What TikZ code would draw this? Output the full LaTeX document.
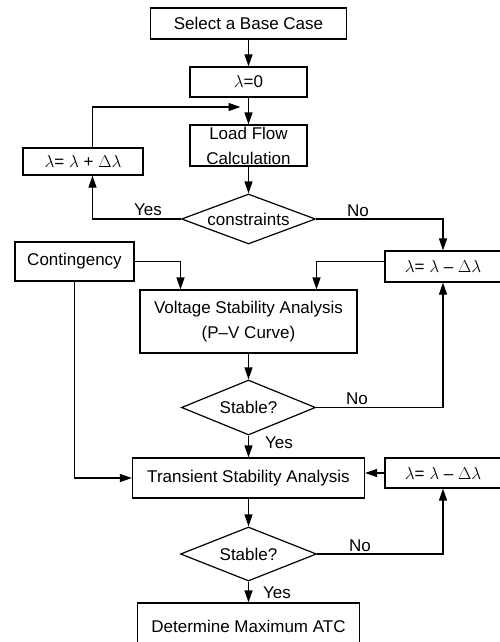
\documentclass[tikz,border=0pt]{standalone}
\usepackage{fontspec}
\setmainfont{Liberation Sans}
\usetikzlibrary{arrows.meta,shapes.geometric}
\tikzset{
    process/.style={
    rectangle,draw=black,line width=1.2pt,inner sep=1pt,align=center
    },
    decision/.style={
    diamond,aspect=2.6,draw=black,line width=1.2pt,inner sep=0pt,minimum width=134pt,minimum height=52pt
    },
    stepbox/.style={
    rectangle,draw=black,line width=1.2pt,inner sep=1pt,minimum width=116pt
    },
    flow/.style={
    line width=1.2pt,-{Triangle[length=12pt,width=8pt]}
    },
    lbl/.style={
    inner sep=0pt
    },
}

\begin{document}
\begin{tikzpicture}[x=1pt,y=-1pt,font=\fontsize{17}{25}\selectfont]
   \useasboundingbox (0,0) rectangle (500,642);
   \node[process,minimum width=196pt,minimum height=31pt] (base) at (248.5,23.5) {Select a Base Case};
   \node[process,minimum width=117pt,minimum height=30pt] (init) at (248.5,82) {$\lambda$=0};
   \coordinate (join) at (248.5,107);
   \node[process,minimum width=117pt,minimum height=41pt] (lf) at (248.5,145.5) {Load Flow\\Calculation};
   \node[stepbox,minimum width=120pt,minimum height=27pt] (inc) at (83,161.5) {$\lambda$= $\lambda$ + $\Delta\lambda$};
   \node[decision,minimum height=50pt] (cons) at (248.5,219) {constraints};
   \node[process,minimum width=119pt,minimum height=39pt] (cont) at (74.5,261.5) {Contingency};
   \node[stepbox,minimum height=31pt] (dec1) at (443,266.5) {$\lambda$= $\lambda$ -- $\Delta\lambda$};
   \node[process,minimum width=217pt,minimum height=63pt] (vsa) at (248.5,321.5) {Voltage Stability Analysis\\(P--V Curve)};
   \node[decision,minimum height=55pt] (vchk) at (248.5,407.5) {Stable?};
   \node[process,minimum width=232pt,minimum height=40pt] (tsa) at (248.5,478) {Transient Stability Analysis};
   \node[stepbox,minimum height=30pt] (dec2) at (443,473) {$\lambda$= $\lambda$ -- $\Delta\lambda$};
   \node[decision,minimum width=136pt,minimum height=54pt] (tchk) at (248.5,554) {Stable?};
   \node[process,minimum width=222pt,minimum height=46pt] (atc) at (248.5,626) {Determine Maximum ATC};

   % branch labels
   \node[lbl] (yes1) at (148,210) {Yes};
   \node[lbl] (no1) at (358,211) {No};
   \node[lbl] (no2) at (357,399) {No};
   \node[lbl] (yes2) at (279,443) {Yes};
   \node[lbl] (no3) at (360,546) {No};
   \node[lbl] (yes3) at (277,593) {Yes};

  \path[flow]
    (base) edge node {} (init)
    (init) edge node {} (lf)
    (lf) edge node {} (cons)
    (vsa) edge node {} (vchk)
    (vchk) edge node {} (tsa)
    (tsa) edge node {} (tchk)
    (tchk) edge node {} (atc);

  \draw[flow] (cons.west) -| ([xshift=9.5pt]inc.south);
  \draw[flow] ([xshift=9.5pt]inc.north) |- ([xshift=-8pt]join);
  \draw[flow] (cons.east) -| (dec1.north);
  \draw[flow] (cont.east) -| ([xshift=-68pt]vsa.north);
  \draw[flow] ([yshift=5pt]dec1.west) -| ([xshift=68pt]vsa.north);
  \draw[flow] (vchk.east) -| (dec1.south);
  \draw[flow] (cont.south) |- (tsa.west);
  \draw[flow] (dec2.west) -- (dec2.west -| tsa.east);
  \draw[flow] (tchk.east) -| (dec2.south);
\end{tikzpicture}
\end{document}
